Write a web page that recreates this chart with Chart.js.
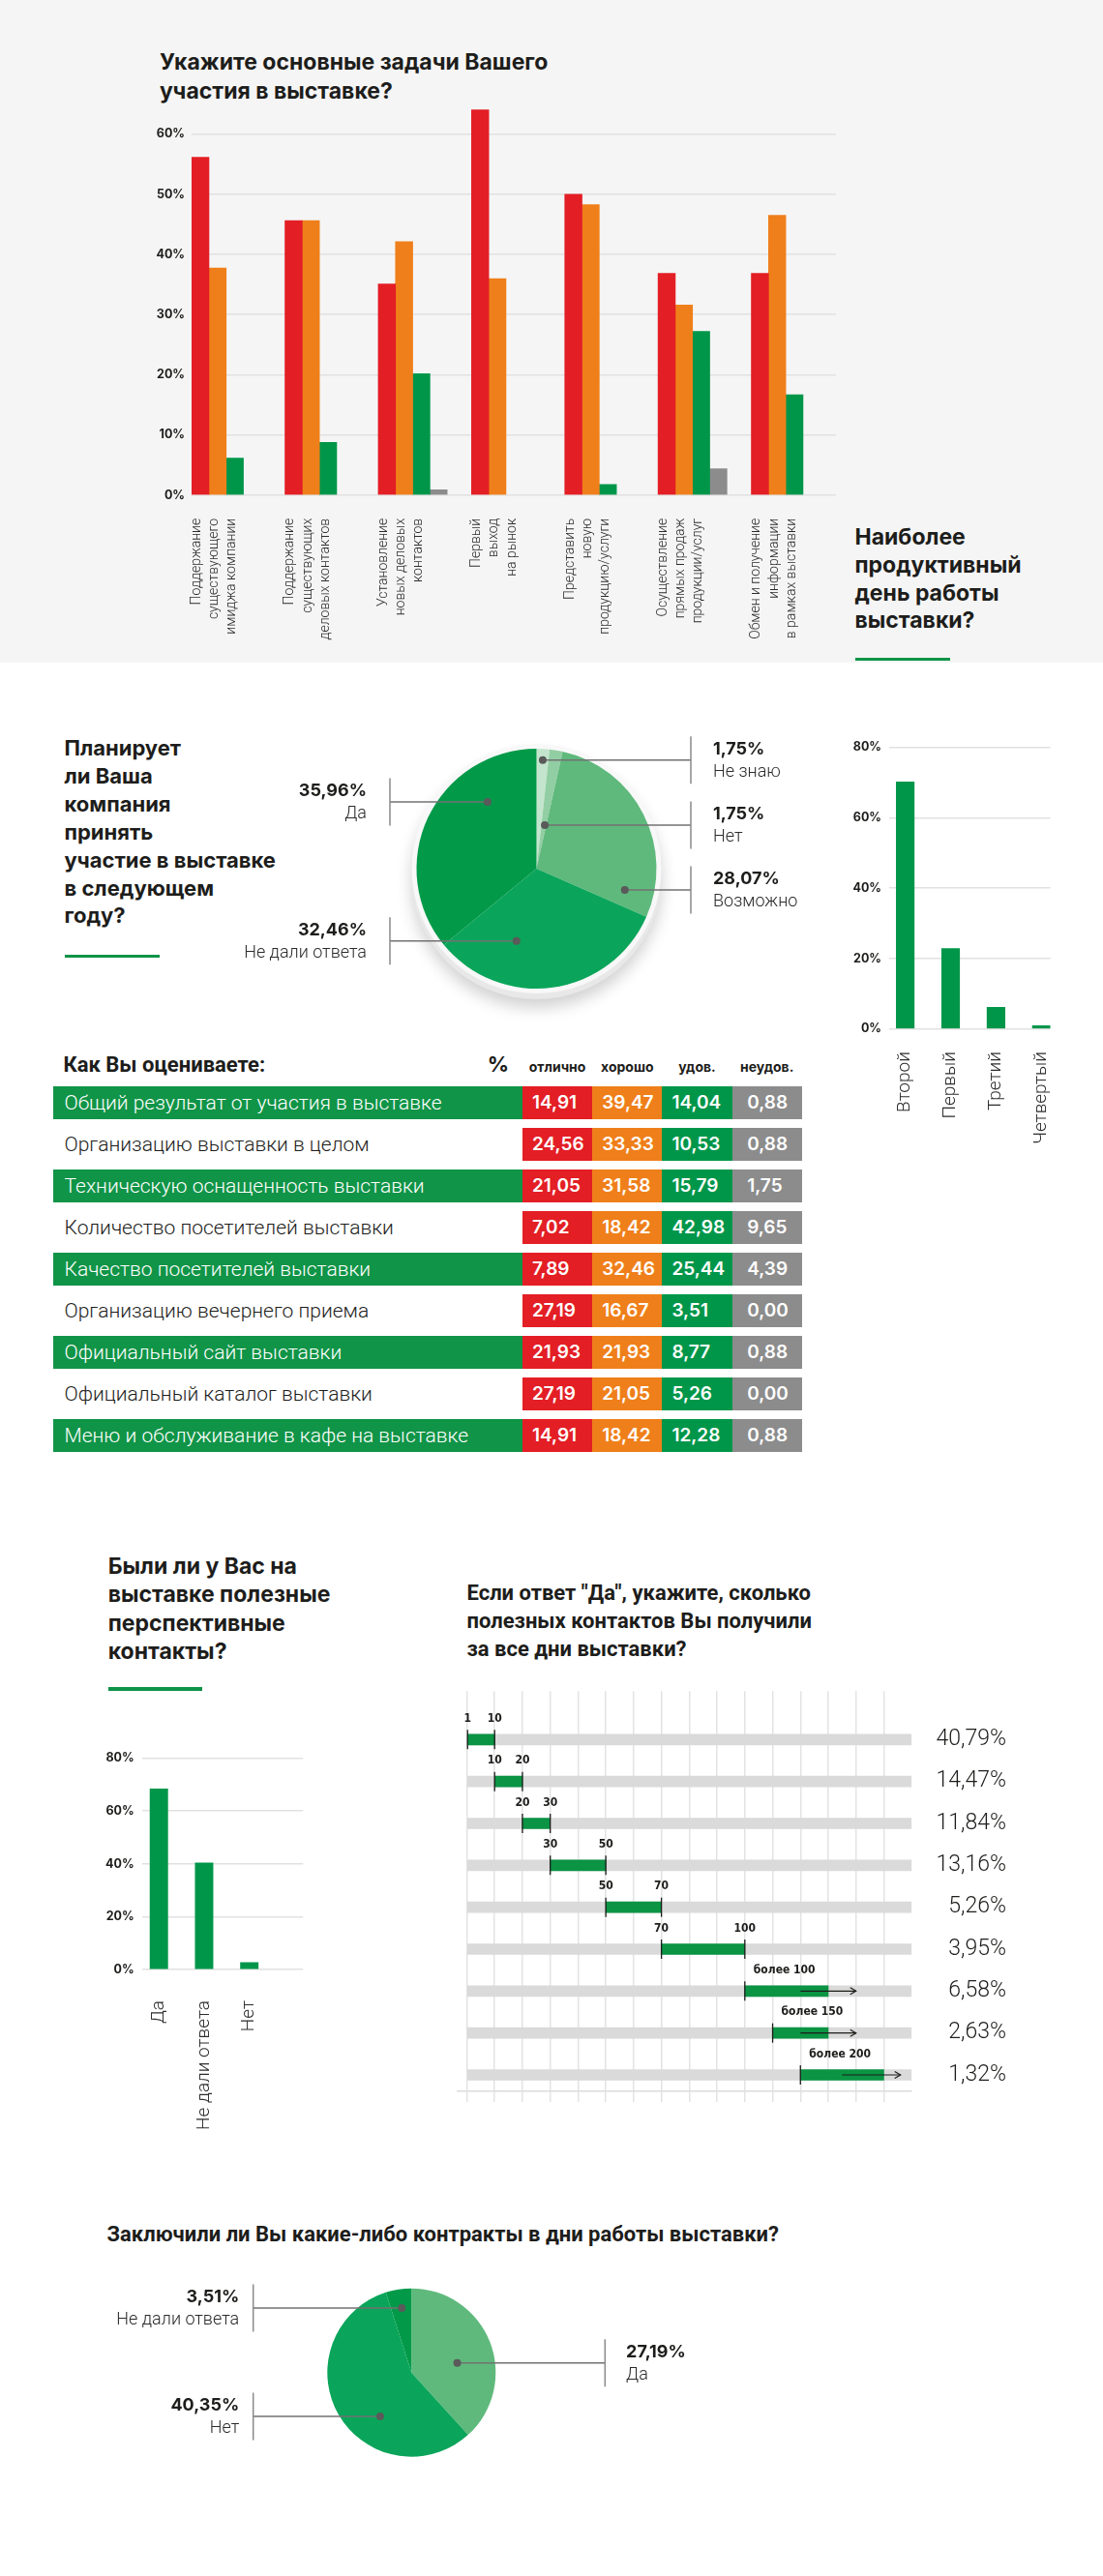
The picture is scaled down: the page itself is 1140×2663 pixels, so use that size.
<!DOCTYPE html>
<html lang="ru">
<head>
<meta charset="utf-8">
<title>Итоги выставки</title>
<script src="https://cdn.jsdelivr.net/npm/chart.js@4.4.1/dist/chart.umd.min.js"></script>
<style>
  html, body { margin: 0; padding: 0; background: #fff; }
  #page { position: relative; width: 1140px; height: 2663px; overflow: hidden; }
  .abs { position: absolute; }
  .top-bg { left: 0; top: 0; width: 1140px; height: 685px; background: #f5f5f5; }
  .title { font-family: Inter, "Noto Sans", sans-serif; font-weight: 700; color: #1d1d1b; white-space: nowrap; }
  .title-r { font-family: Roboto, sans-serif; font-weight: 700; color: #1d1d1b; white-space: nowrap; }
  .accent { height: 3.5px; background: #0e9347; }
  .band { box-sizing: border-box; padding-left: 12px; font-family: Roboto, sans-serif; font-weight: 300;
          font-size: 21px; white-space: nowrap; line-height: 34px; height: 34px; }
  .cell { box-sizing: border-box; font-family: Inter, sans-serif; font-weight: 600; font-size: 19px;
          color: #fff; line-height: 34px; height: 34px; }
  .head { font-family: Inter, sans-serif; font-weight: 700; font-size: 14px; color: #1d1d1b;
          text-align: center; line-height: 18px; }
  canvas { position: absolute; }
</style>
</head>
<body>
<div id="page">
  <div class="abs top-bg"></div>

  <div class="abs title" style="left:165px;top:49px;font-size:23px;line-height:30px">Укажите основные задачи Вашего<br>участия в выставке?</div>
  <canvas id="tasks" width="740" height="590" style="left:140px;top:90px"></canvas>

  <div class="abs title" style="left:883.5px;top:541px;font-size:23px;line-height:28.8px">Наиболее<br>продуктивный<br>день работы<br>выставки?</div>
  <div class="abs accent" style="left:883.5px;top:679.5px;width:98px"></div>
  <canvas id="days" width="240" height="440" style="left:870px;top:760px"></canvas>

  <div class="abs title" style="left:66.5px;top:759px;font-size:22px;line-height:28.9px">Планирует<br>ли Ваша<br>компания<br>принять<br>участие в выставке<br>в следующем<br>году?</div>
  <div class="abs accent" style="left:66.5px;top:986.5px;width:98px"></div>
  <canvas id="plan" width="670" height="320" style="left:230px;top:740px"></canvas>

  <div class="abs title-r" style="left:65.5px;top:1087.7px;font-size:22px;line-height:26px">Как Вы оцениваете:</div>
  <div class="abs head" style="left:500px;top:1087px;width:30px;font-size:22px;line-height:26px">%</div>
  <div id="rating"></div>

  <div class="abs title" style="left:111.7px;top:1605px;font-size:23px;line-height:29.3px">Были ли у Вас на<br>выставке полезные<br>перспективные<br>контакты?</div>
  <div class="abs accent" style="left:111.7px;top:1744.3px;width:97.3px"></div>
  <canvas id="useful" width="240" height="420" style="left:100px;top:1800px"></canvas>

  <div class="abs title-r" style="left:482.5px;top:1632px;font-size:22px;line-height:29.2px">Если ответ "Да", укажите, сколько<br>полезных контактов Вы получили<br>за все дни выставки?</div>
  <canvas id="ranges" width="580" height="450" style="left:460px;top:1740px"></canvas>

  <div class="abs title-r" style="left:110.5px;top:2296px;font-size:22px;line-height:28px">Заключили ли Вы какие-либо контракты в дни работы выставки?</div>
  <canvas id="deals" width="700" height="220" style="left:100px;top:2340px"></canvas>
</div>

<script>
// --- data ---
const taskLabels = [
  ['Поддержание', 'существующего', 'имиджа компании'],
  ['Поддержание', 'существующих', 'деловых контактов'],
  ['Установление', 'новых деловых', 'контактов'],
  ['Первый', 'выход', 'на рынок'],
  ['Представить', 'новую', 'продукцию/услуги'],
  ['Осуществление', 'прямых продаж', 'продукции/услуг'],
  ['Обмен и получение', 'информации', 'в рамках выставки']
];
const taskRed = [56.14, 45.61, 35.09, 64.04, 50.00, 36.84, 36.84];
const taskOrange = [37.72, 45.61, 42.11, 35.96, 48.25, 31.58, 46.49];
const taskGreen = [6.14, 8.77, 20.18, null, 1.75, 27.19, 16.67];
const taskGrey = [null, null, 0.88, null, null, 4.39, null];
const taskTicks = [0, 10, 20, 30, 40, 50, 60];

const dayLabels = ['Второй', 'Первый', 'Третий', 'Четвертый'];
const dayValues = [70.18, 22.81, 6.14, 0.88];
const dayTicks = [0, 20, 40, 60, 80];

const planLabels = ['Не знаю', 'Нет', 'Возможно', 'Не дали ответа', 'Да'];
const planValues = [1.75, 1.75, 28.07, 32.46, 35.96];

const rateRows = [
  'Общий результат от участия в выставке',
  'Организацию выставки в целом',
  'Техническую оснащенность выставки',
  'Количество посетителей выставки',
  'Качество посетителей выставки',
  'Организацию вечернего приема',
  'Официальный сайт выставки',
  'Официальный каталог выставки',
  'Меню и обслуживание в кафе на выставке'
];
const rateHeads = ['отлично', 'хорошо', 'удов.', 'неудов.'];
const rateExcellent = [14.91, 24.56, 21.05, 7.02, 7.89, 27.19, 21.93, 27.19, 14.91];
const rateGood = [39.47, 33.33, 31.58, 18.42, 32.46, 16.67, 21.93, 21.05, 18.42];
const rateFair = [14.04, 10.53, 15.79, 42.98, 25.44, 3.51, 8.77, 5.26, 12.28];
const ratePoor = [0.88, 0.88, 1.75, 9.65, 4.39, 0.00, 0.88, 0.00, 0.88];

const usefulLabels = ['Да', 'Не дали ответа', 'Нет'];
const usefulValues = [68.42, 40.35, 2.63];
const usefulTicks = [0, 20, 40, 60, 80];

// ranges are in grid steps: 1,10,20,30,(40),50,(60),70,(80),(90),100,150,200...
const contactRanges = [[0, 1], [1, 2], [2, 3], [3, 5], [5, 7], [7, 10], [10, 13], [11, 13], [12, 15]];
const contactEdges = [['1', '10'], ['10', '20'], ['20', '30'], ['30', '50'], ['50', '70'], ['70', '100'],
  ['более 100'], ['более 150'], ['более 200']];
const contactShares = [40.79, 14.47, 11.84, 13.16, 5.26, 3.95, 6.58, 2.63, 1.32];
const contactArrows = [null, null, null, null, null, null, [12, 14], [12, 14], [13.5, 15.6]];
const contactGrid = [0, 1, 2, 3, 4, 5, 6, 7, 8, 9, 10, 11, 12, 13, 14, 15];

const dealLabels = ['Да', 'Нет', 'Не дали ответа'];
const dealValues = [27.19, 40.35, 3.51];

// --- helpers ---
const RED = '#e31e25', ORANGE = '#ef7f1a', GREEN = '#00964a', GREY = '#8c8c8c', BAND = '#109447';
const fmt = v => v.toFixed(2).replace('.', ',');
const xy = arr => arr.map((v, i) => ({ x: i, y: v })).filter(p => p.y !== null);
const fixTicks = values => scale => { scale.ticks = values.map(v => ({ value: v })); };
const noLegend = { legend: { display: false }, tooltip: { enabled: false } };
Chart.defaults.font.family = 'Roboto';

function columnChart(id, opts) {
  return new Chart(document.getElementById(id), {
    type: 'bar',
    data: { datasets: opts.datasets },
    options: {
      responsive: false,
      animation: false,
      layout: { padding: opts.padding },
      plugins: noLegend,
      datasets: { bar: { barThickness: opts.barWidth } },
      scales: {
        x: {
          type: 'linear', min: opts.xMin, max: opts.xMax, offset: false,
          grid: { display: false, offset: false }, border: { display: false },
          afterBuildTicks: fixTicks(opts.labels.map((_, i) => i)),
          afterFit: s => { s.height = opts.xHeight; s.paddingLeft = 0; s.paddingRight = 0; },
          ticks: {
            autoSkip: false, minRotation: 90, maxRotation: 90,
            labelOffset: opts.labelOffset, padding: opts.labelPad, color: '#2b2b2b',
            font: { family: 'Roboto', weight: '300', size: opts.labelSize, lineHeight: 1.3 },
            callback: v => opts.labels[v]
          }
        },
        y: {
          min: 0, max: opts.yMax,
          afterBuildTicks: fixTicks(opts.yTicks),
          afterFit: s => { s.width = opts.yWidth; s.paddingTop = 0; s.paddingBottom = 0; },
          grid: { color: '#e1e1e1', lineWidth: 1.5, drawTicks: false },
          border: { display: false },
          ticks: {
            padding: opts.yPad, color: '#1d1d1b',
            font: { family: 'Inter', weight: '700', size: 12.5 },
            callback: v => v + '%'
          }
        }
      }
    }
  });
}

// --- top grouped bars ---
columnChart('tasks', {
  datasets: [
    { data: xy(taskRed), backgroundColor: RED },
    { data: xy(taskOrange), backgroundColor: ORANGE },
    { data: xy(taskGreen), backgroundColor: GREEN },
    { data: xy(taskGrey), backgroundColor: GREY }
  ],
  labels: taskLabels, barWidth: 17.8, xMin: -0.371, xMax: 6.536,
  padding: { top: 11.3, right: 16.2, left: 0, bottom: 0 },
  xHeight: 168.2, labelOffset: -30.2, labelPad: 16, labelSize: 14,
  yMax: 66, yTicks: taskTicks, yWidth: 58, yPad: 7
});

// --- most productive day ---
columnChart('days', {
  datasets: [{ data: xy(dayValues), backgroundColor: GREEN }],
  labels: dayLabels, barWidth: 18.5, xMin: -0.354, xMax: 3.198,
  padding: { top: 12.6, right: 24.4, left: 0, bottom: 0 },
  xHeight: 136.4, labelOffset: 0, labelPad: 15.5, labelSize: 19,
  yMax: 80, yTicks: dayTicks, yWidth: 49, yPad: 8
});

// --- useful contacts ---
columnChart('useful', {
  datasets: [{ data: xy(usefulValues), backgroundColor: GREEN }],
  labels: usefulLabels, barWidth: 18.3, xMin: -0.375, xMax: 3.19,
  padding: { top: 17.6, right: 26.7, left: 0, bottom: 0 },
  xHeight: 184, labelOffset: 0, labelPad: 24, labelSize: 19,
  yMax: 80, yTicks: usefulTicks, yWidth: 46.7, yPad: 8
});

// --- pies with callouts ---
const callouts = {
  id: 'callouts',
  beforeDatasetsDraw(chart, args, o) {
    if (!o.rim) return;
    const arc = chart.getDatasetMeta(0).data[0];
    const ctx = chart.ctx;
    ctx.save();
    ctx.shadowColor = 'rgba(0,0,0,0.18)';
    ctx.shadowBlur = 16;
    ctx.shadowOffsetY = 9;
    ctx.fillStyle = '#e8e8e8';
    ctx.beginPath(); ctx.arc(arc.x, arc.y + 5, arc.outerRadius + 6, 0, Math.PI * 2); ctx.fill();
    ctx.restore();
    ctx.fillStyle = '#f8f8f8';
    ctx.beginPath(); ctx.arc(arc.x, arc.y, arc.outerRadius + 5, 0, Math.PI * 2); ctx.fill();
  },
  afterDatasetsDraw(chart, args, o) {
    const ctx = chart.ctx;
    const labels = chart.data.labels;
    const values = chart.data.datasets[0].data;
    chart.getDatasetMeta(0).data.forEach((arc, i) => {
      const c = o.items[i];
      const a = arc.startAngle + (arc.endAngle - arc.startAngle) * c.frac;
      const dx = arc.x + Math.cos(a) * arc.outerRadius * c.rf;
      const dy = arc.y + Math.sin(a) * arc.outerRadius * c.rf;
      const left = c.bar < 0;
      const bx = arc.x + c.bar;
      ctx.save();
      ctx.strokeStyle = '#727272';
      ctx.lineWidth = 1.5;
      ctx.beginPath(); ctx.moveTo(dx, dy); ctx.lineTo(bx, dy); ctx.stroke();
      ctx.strokeStyle = '#8a8a8a';
      ctx.beginPath(); ctx.moveTo(bx, dy - 24.5); ctx.lineTo(bx, dy + 24.5); ctx.stroke();
      ctx.fillStyle = '#5a5a5a';
      ctx.beginPath(); ctx.arc(dx, dy, 4, 0, Math.PI * 2); ctx.fill();
      const tx = left ? bx - o.gapLeft : bx + o.gapRight;
      ctx.textAlign = left ? 'right' : 'left';
      ctx.textBaseline = 'middle';
      ctx.fillStyle = '#1d1d1b';
      ctx.font = '700 18px Inter';
      ctx.fillText(fmt(values[i]) + '%', tx, dy - 11.5);
      ctx.fillStyle = '#2b2b2b';
      ctx.font = '300 18px Roboto';
      ctx.fillText(labels[i], tx, dy + 12.5);
      ctx.restore();
    });
  }
};

function pieChart(id, labels, values, colors, padding, calloutOpts) {
  return new Chart(document.getElementById(id), {
    type: 'pie',
    data: { labels, datasets: [{ data: values, backgroundColor: colors, borderWidth: 0 }] },
    options: {
      responsive: false,
      animation: false,
      layout: { padding },
      plugins: { legend: { display: false }, tooltip: { enabled: false }, callouts: calloutOpts }
    },
    plugins: [callouts]
  });
}

pieChart('plan', planLabels, planValues,
  ['#c4e5cd', '#92cea3', '#5fb97c', '#0aa55a', '#029a49'],
  { left: 200.5, right: 221.5, top: 34, bottom: 38 },
  {
    rim: true, gapLeft: 24, gapRight: 23,
    items: [
      { frac: 0.52, rf: 0.907, bar: 159.5 },
      { frac: 0.71, rf: 0.37, bar: 159.5 },
      { frac: 0.90, rf: 0.757, bar: 159.5 },
      { frac: 0.70, rf: 0.625, bar: -151.5 },
      { frac: 0.72, rf: 0.69, bar: -151.5 }
    ]
  });

pieChart('deals', dealLabels, dealValues,
  ['#5fb97c', '#0aa55a', '#029a49'],
  { left: 238.3, right: 287.7, top: 25.7, bottom: 20.3 },
  {
    rim: false, gapLeft: 14.5, gapRight: 21.8,
    items: [
      { frac: 0.567, rf: 0.555, bar: 200 },
      { frac: 0.38, rf: 0.64, bar: -163.6 },
      { frac: 0.52, rf: 0.776, bar: -163.6 }
    ]
  });

// --- contact ranges ---
const rangeMarks = {
  id: 'rangeMarks',
  afterDatasetsDraw(chart) {
    const ctx = chart.ctx;
    const xs = chart.scales.x;
    chart.getDatasetMeta(0).data.forEach((bar, i) => {
      const x0 = Math.min(bar.x, bar.base), x1 = Math.max(bar.x, bar.base), y = bar.y;
      const open = contactArrows[i] !== null;
      ctx.save();
      ctx.strokeStyle = '#1d1d1b';
      ctx.lineWidth = 1.3;
      const tick = x => { ctx.beginPath(); ctx.moveTo(x, y - 10); ctx.lineTo(x, y + 10); ctx.stroke(); };
      tick(x0);
      if (!open) tick(x1);
      ctx.fillStyle = '#1d1d1b';
      ctx.font = '700 12px "Liberation Sans Narrow", "DejaVu Sans Condensed", Roboto';
      ctx.textBaseline = 'middle';
      if (open) {
        ctx.textAlign = 'left';
        ctx.fillText(contactEdges[i][0], x0 + 9, y - 21.6);
        const a0 = xs.getPixelForValue(contactArrows[i][0]);
        const a1 = xs.getPixelForValue(contactArrows[i][1]);
        ctx.lineWidth = 1.2;
        ctx.beginPath(); ctx.moveTo(a0, y); ctx.lineTo(a1, y); ctx.stroke();
        ctx.beginPath(); ctx.moveTo(a1 - 6, y - 3.5); ctx.lineTo(a1, y); ctx.lineTo(a1 - 6, y + 3.5); ctx.stroke();
      } else {
        ctx.textAlign = 'center';
        ctx.fillText(contactEdges[i][0], x0, y - 21.6);
        ctx.fillText(contactEdges[i][1], x1, y - 21.6);
      }
      ctx.restore();
    });
  }
};

new Chart(document.getElementById('ranges'), {
  type: 'bar',
  data: {
    datasets: [
      { data: contactRanges.map((r, i) => ({ x: r, y: i })), backgroundColor: '#0a9444', barThickness: 11, grouped: false },
      { data: contactRanges.map((r, i) => ({ x: [0, 16], y: i })), backgroundColor: '#dadada', barThickness: 11, grouped: false }
    ]
  },
  options: {
    indexAxis: 'y',
    responsive: false,
    animation: false,
    layout: { padding: { left: 12.4, top: 8.3, right: 0, bottom: 0 } },
    plugins: noLegend,
    scales: {
      x: {
        type: 'linear', min: -0.351, max: 16, offset: false,
        afterBuildTicks: fixTicks(contactGrid),
        afterFit: s => { s.height = 28; s.paddingLeft = 0; s.paddingRight = 0; },
        grid: { color: '#e3e3e3', lineWidth: 1.5, tickLength: 11, offset: false },
        border: { color: '#dcdcdc', width: 1.5 },
        ticks: { display: false }
      },
      y: {
        type: 'linear', reverse: true, min: -1.154, max: 8.392, position: 'right', offset: false,
        afterBuildTicks: fixTicks(contactShares.map((_, i) => i)),
        afterFit: s => { s.width = 97.8; s.paddingTop = 0; s.paddingBottom = 0; },
        grid: { display: false, offset: false }, border: { display: false },
        ticks: {
          crossAlign: 'far', padding: 14, color: '#1d1d1b',
          font: { family: 'Roboto', weight: '300', size: 23 },
          callback: v => fmt(contactShares[v]) + '%'
        }
      }
    }
  },
  plugins: [rangeMarks]
});

// --- rating table ---
const rating = document.getElementById('rating');
const cellColors = [RED, ORANGE, GREEN, GREY];
const colLeft = 540, colWidth = 72.2;
rateHeads.forEach((h, j) => {
  const d = document.createElement('div');
  d.className = 'abs head';
  d.style.cssText = `left:${colLeft + j * colWidth}px;top:1094.3px;width:${colWidth}px`;
  d.textContent = h;
  rating.appendChild(d);
});
rateRows.forEach((label, i) => {
  const top = 1122.7 + i * 43.08;
  const striped = i % 2 === 0;
  const band = document.createElement('div');
  band.className = 'abs band';
  band.style.cssText = `left:54.5px;top:${top}px;width:${colLeft - 54.5}px;` +
    `background:${striped ? BAND : 'transparent'};color:${striped ? '#fff' : '#1d1d1b'}`;
  band.textContent = label;
  rating.appendChild(band);
  [rateExcellent[i], rateGood[i], rateFair[i], ratePoor[i]].forEach((v, j) => {
    const c = document.createElement('div');
    c.className = 'abs cell';
    c.style.cssText = `left:${colLeft + j * colWidth}px;top:${top}px;width:${colWidth}px;` +
      `background:${cellColors[j]};padding-left:${j === 3 ? 15.6 : 10}px`;
    c.textContent = fmt(v);
    rating.appendChild(c);
  });
});
</script>
</body>
</html>
